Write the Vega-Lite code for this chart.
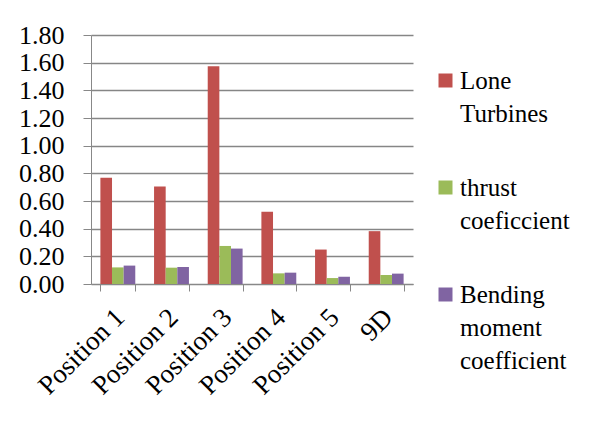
{
  "$schema": "https://vega.github.io/schema/vega-lite/v6.json",
  "width": 322,
  "height": 249,
  "autosize": "none",
  "padding": {"left": 91, "top": 35, "right": 176, "bottom": 147},
  "background": "white",
  "data": {
    "values": [
      {"position": "Position 1", "series": "Lone Turbines", "value": 0.768},
      {"position": "Position 1", "series": "thrust coeficcient", "value": 0.12},
      {"position": "Position 1", "series": "Bending moment coefficient", "value": 0.133},
      {"position": "Position 2", "series": "Lone Turbines", "value": 0.705},
      {"position": "Position 2", "series": "thrust coeficcient", "value": 0.118},
      {"position": "Position 2", "series": "Bending moment coefficient", "value": 0.123},
      {"position": "Position 3", "series": "Lone Turbines", "value": 1.575},
      {"position": "Position 3", "series": "thrust coeficcient", "value": 0.275},
      {"position": "Position 3", "series": "Bending moment coefficient", "value": 0.256},
      {"position": "Position 4", "series": "Lone Turbines", "value": 0.522},
      {"position": "Position 4", "series": "thrust coeficcient", "value": 0.077},
      {"position": "Position 4", "series": "Bending moment coefficient", "value": 0.082},
      {"position": "Position 5", "series": "Lone Turbines", "value": 0.249},
      {"position": "Position 5", "series": "thrust coeficcient", "value": 0.043},
      {"position": "Position 5", "series": "Bending moment coefficient", "value": 0.053},
      {"position": "9D", "series": "Lone Turbines", "value": 0.382},
      {"position": "9D", "series": "thrust coeficcient", "value": 0.065},
      {"position": "9D", "series": "Bending moment coefficient", "value": 0.075}
    ]
  },
  "mark": {"type": "bar"},
  "encoding": {
    "x": {
      "field": "position",
      "type": "nominal",
      "sort": ["Position 1", "Position 2", "Position 3", "Position 4", "Position 5", "9D"],
      "scale": {"paddingInner": 0.35, "paddingOuter": 0.175},
      "axis": {
        "title": null,
        "labelAngle": -45,
        "labelAlign": "right",
        "labelBaseline": "middle",
        "labelOffset": 2,
        "tickBand": "extent",
        "tickSize": 7,
        "labelPadding": 22,
        "labelFont": "Liberation Serif",
        "labelFontSize": 27,
        "labelColor": "black",
        "domainColor": "#888888",
        "tickColor": "#888888",
        "grid": false
      }
    },
    "xOffset": {
      "field": "series",
      "sort": ["Lone Turbines", "thrust coeficcient", "Bending moment coefficient"],
      "scale": {"paddingInner": 0, "paddingOuter": 0}
    },
    "y": {
      "field": "value",
      "type": "quantitative",
      "scale": {"domain": [0, 1.8], "nice": false},
      "axis": {
        "title": null,
        "values": [0, 0.2, 0.4, 0.6, 0.8, 1.0, 1.2, 1.4, 1.6, 1.8],
        "format": ".2f",
        "tickSize": 8,
        "labelPadding": 19,
        "labelFont": "Liberation Serif",
        "labelFontSize": 26,
        "labelColor": "black",
        "domainColor": "#888888",
        "tickColor": "#888888",
        "gridColor": "#868686",
        "gridWidth": 1.3,
        "grid": true
      }
    },
    "color": {
      "field": "series",
      "type": "nominal",
      "sort": ["Lone Turbines", "thrust coeficcient", "Bending moment coefficient"],
      "scale": {
        "domain": ["Lone Turbines", "thrust coeficcient", "Bending moment coefficient"],
        "range": ["#C0504D", "#9BBB59", "#8064A2"]
      },
      "legend": {
        "title": null,
        "orient": "none",
        "legendX": 342,
        "legendY": 33,
        "padding": 0,
        "symbolType": "square",
        "symbolSize": 196,
        "symbolStrokeWidth": 0,
        "labelOffset": 2,
        "rowPadding": 48,
        "labelFont": "serif",
        "labelFontSize": 25,
        "labelColor": "black",
        "labelLimit": 200,
        "labelExpr": "datum.label == 'Lone Turbines' ? ['Lone', 'Turbines'] : datum.label == 'thrust coeficcient' ? ['thrust', 'coeficcient'] : ['Bending', 'moment', 'coefficient']"
      }
    }
  },
  "config": {
    "view": {"stroke": null},
    "legend": {"labelFont": "serif"},
    "style": {"guide-label": {"lineHeight": 33}}
  }
}
